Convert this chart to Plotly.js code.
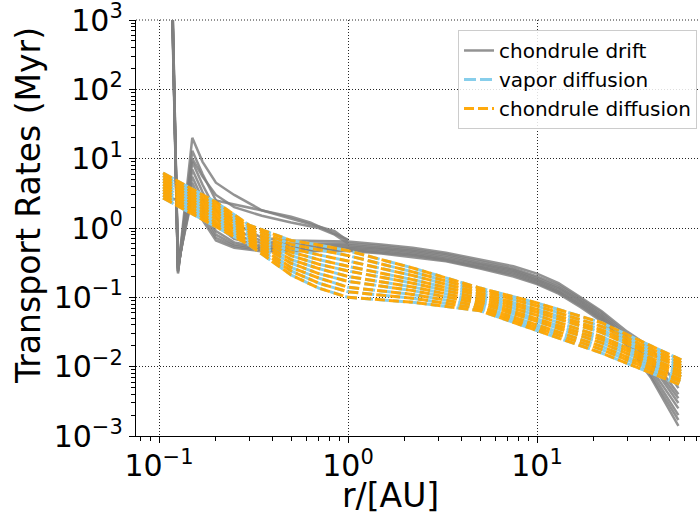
<!DOCTYPE html>
<html><head><meta charset="utf-8">
<script src="https://cdn.plot.ly/plotly-3.0.1.min.js"></script>
<style>html,body{margin:0;padding:0;background:#fff;}#chart{width:700px;height:516px;}</style>
</head><body><div id="chart"></div>
<script>
// ---- chondrule drift (short early snapshots, ending at 1 AU) ----
const rShort = [0.117, 0.126, 0.15, 0.17, 0.2, 0.25, 0.35, 0.5, 0.7, 0.85, 1.0];
const driftS1 = [3000, 0.24, 20, 9, 4.5, 3.0, 1.8, 1.35, 1.05, 0.9, 0.65];
const driftS2 = [3000, 0.26, 10, 5.5, 3.0, 2.0, 1.5, 1.2, 1.0, 0.8, 0.6];
const rShort3 = [0.114, 0.15, 0.2, 0.25, 0.35, 0.5, 0.63, 0.8, 1.0];
const driftS3 = [2.6, 2.6, 2.5, 2.2, 1.8, 1.45, 1.2, 0.9, 0.68];

// ---- chondrule drift (main bundle) ----
const rDrift = [0.117, 0.126, 0.15, 0.17, 0.2, 0.25, 0.35, 0.5, 0.7, 1.0, 1.5, 2.2, 3.3, 5, 7.5, 10, 13, 17, 22, 30, 40, 56];
const driftM1 = [2500, 0.22, 13, 6, 2.5, 1.2, 0.72, 0.66, 0.65, 0.64, 0.58, 0.52, 0.44, 0.35, 0.28, 0.22, 0.16, 0.1, 0.063, 0.032, 0.019, 0.0049];
const driftM2 = [3000, 0.23, 9, 4.2, 1.8, 0.95, 0.65, 0.6, 0.6, 0.6, 0.55, 0.49, 0.42, 0.33, 0.26, 0.2, 0.15, 0.095, 0.06, 0.029, 0.014, 0.004];
const driftM3 = [4000, 0.24, 7, 3.3, 1.4, 0.8, 0.6, 0.56, 0.57, 0.57, 0.52, 0.47, 0.4, 0.31, 0.25, 0.19, 0.14, 0.09, 0.056, 0.027, 0.012, 0.0035];
const driftM4 = [2000, 0.25, 5.5, 2.6, 1.1, 0.7, 0.55, 0.53, 0.54, 0.54, 0.5, 0.45, 0.38, 0.3, 0.24, 0.18, 0.135, 0.087, 0.054, 0.025, 0.011, 0.003];
const driftM5 = [5000, 0.26, 4.5, 2.1, 0.9, 0.62, 0.52, 0.51, 0.52, 0.52, 0.48, 0.43, 0.36, 0.29, 0.23, 0.175, 0.127, 0.083, 0.051, 0.023, 0.0095, 0.0025];
const driftM6 = [3500, 0.27, 3.8, 1.8, 0.8, 0.58, 0.5, 0.49, 0.5, 0.5, 0.46, 0.41, 0.35, 0.28, 0.22, 0.167, 0.122, 0.079, 0.049, 0.022, 0.0085, 0.002];
const driftM7 = [2800, 0.28, 3.2, 1.5, 0.72, 0.55, 0.48, 0.47, 0.48, 0.48, 0.44, 0.4, 0.34, 0.27, 0.21, 0.16, 0.118, 0.076, 0.047, 0.021, 0.0075, 0.0017];
const driftM8 = [4500, 0.3, 2.8, 1.3, 0.66, 0.52, 0.46, 0.46, 0.47, 0.47, 0.43, 0.38, 0.33, 0.26, 0.2, 0.155, 0.113, 0.072, 0.045, 0.02, 0.007, 0.0014];

// ---- diffusion (vapor and chondrule share the same values) ----
const rDiff = [0.105, 0.15, 0.2, 0.3, 0.5, 0.7, 1.0, 2.2, 5, 10, 22, 58];
const diff1  = [6.21, 3.65, 2.37, 1.10, 0.66, 0.57, 0.47, 0.265, 0.136, 0.083, 0.043, 0.0125];
const diff2  = [5.66, 3.33, 2.16, 1.03, 0.58, 0.485, 0.40, 0.233, 0.125, 0.075, 0.038, 0.0114];
const diff3  = [5.16, 3.03, 1.97, 0.95, 0.51, 0.41, 0.335, 0.206, 0.115, 0.067, 0.034, 0.0104];
const diff4  = [4.71, 2.77, 1.80, 0.885, 0.45, 0.35, 0.28, 0.18, 0.106, 0.061, 0.031, 0.0095];
const diff5  = [4.30, 2.52, 1.64, 0.82, 0.40, 0.30, 0.24, 0.16, 0.097, 0.055, 0.027, 0.0086];
const diff6  = [3.92, 2.30, 1.50, 0.76, 0.35, 0.26, 0.20, 0.141, 0.089, 0.049, 0.0245, 0.0079];
const diff7  = [3.57, 2.10, 1.36, 0.71, 0.31, 0.22, 0.17, 0.125, 0.082, 0.045, 0.022, 0.0072];
const diff8  = [3.26, 1.91, 1.24, 0.66, 0.27, 0.19, 0.14, 0.11, 0.075, 0.040, 0.0196, 0.0065];
const diff9  = [2.97, 1.75, 1.14, 0.61, 0.24, 0.16, 0.12, 0.097, 0.069, 0.036, 0.0176, 0.006];
const diff10 = [2.71, 1.59, 1.03, 0.57, 0.21, 0.136, 0.10, 0.085, 0.064, 0.033, 0.0157, 0.0054];

const yTickVals = [0.001, 0.01, 0.1, 1, 10, 100, 1000];
const yTickText = ['10<sup>−3</sup>','10<sup>−2</sup>','10<sup>−1</sup>','10<sup>0</sup>','10<sup>1</sup>','10<sup>2</sup>','10<sup>3</sup>'];
const xTickVals = [0.1, 1, 10];
const xTickText = ['10<sup>−1</sup>','10<sup>0</sup>','10<sup>1</sup>'];

const driftSeries = [
  [rShort, driftS1], [rShort, driftS2], [rShort3, driftS3],
  [rDrift, driftM1], [rDrift, driftM2], [rDrift, driftM3], [rDrift, driftM4],
  [rDrift, driftM5], [rDrift, driftM6], [rDrift, driftM7], [rDrift, driftM8]
];
const diffSeries = [diff1, diff2, diff3, diff4, diff5, diff6, diff7, diff8, diff9, diff10];

const traces = [];
driftSeries.forEach(([x, y], i) => traces.push({
  x: x, y: y, type: 'scatter', mode: 'lines',
  line: {color: 'rgba(128,128,128,0.85)', width: 2.5},
  name: 'chondrule drift', legendgroup: 'drift', showlegend: i === 0
}));
diffSeries.forEach((y, i) => traces.push({
  x: rDiff, y: y, type: 'scatter', mode: 'lines',
  line: {color: '#87CEEB', width: 3, dash: '12px,4px'},
  name: 'vapor diffusion', legendgroup: 'vap', showlegend: i === 0
}));
diffSeries.forEach((y, i) => traces.push({
  x: rDiff, y: y, type: 'scatter', mode: 'lines',
  line: {color: 'rgba(255,165,0,0.95)', width: 3, dash: '10px,4px'},
  name: 'chondrule diffusion', legendgroup: 'cd', showlegend: i === 0
}));

function minorVals(lo, hi) {
  const v = [];
  for (let e = lo; e <= hi; e++) for (let m = 2; m <= 9; m++) v.push(m * Math.pow(10, e));
  return v;
}

const font = 'DejaVu Sans, sans-serif';
const layout = {
  width: 700, height: 516,
  margin: {l: 136, r: 0, t: 20, b: 80},
  paper_bgcolor: '#fff', plot_bgcolor: '#fff',
  font: {family: font, color: '#000'},
  showlegend: true,
  xaxis: {
    type: 'log', range: [-1.1217, 1.8624],
    tickmode: 'array', tickvals: xTickVals, ticktext: xTickText,
    tickfont: {size: 30, family: font}, ticklabeloverflow: 'allow', ticklabelstandoff: -3,
    ticks: 'outside', ticklen: 6, tickwidth: 1, tickcolor: '#000',
    showline: true, linecolor: '#000', linewidth: 1.2,
    showgrid: true, gridcolor: 'rgba(0,0,0,0.85)', griddash: '1px,2px', gridwidth: 1,
    minor: {tickmode: 'array', tickvals: minorVals(-2, 1), ticks: 'outside', ticklen: 3.5, tickcolor: '#000', showgrid: false},
    zeroline: false
  },
  yaxis: {
    type: 'log', range: [-3, 3],
    tickmode: 'array', tickvals: yTickVals, ticktext: yTickText,
    tickfont: {size: 30, family: font}, ticklabeloverflow: 'allow',
    ticks: 'outside', ticklen: 6, tickwidth: 1, tickcolor: '#000',
    showline: true, linecolor: '#000', linewidth: 1.2,
    showgrid: true, gridcolor: 'rgba(0,0,0,0.85)', griddash: '1px,2px', gridwidth: 1,
    minor: {tickmode: 'array', tickvals: minorVals(-3, 2), ticks: 'outside', ticklen: 3.5, tickcolor: '#000', showgrid: false},
    zeroline: false
  },
  shapes: [
    {type: 'line', xref: 'paper', yref: 'paper', x0: 0, x1: 1, y0: 1, y1: 1,
     line: {color: 'rgba(0,0,0,0.85)', width: 1, dash: '1px,2px'}, layer: 'below'}
  ],
  legend: {
    x: 0.9947, xanchor: 'right', y: 0.976, yanchor: 'top',
    bgcolor: 'rgba(255,255,255,0.85)', bordercolor: '#cccccc', borderwidth: 1,
    tracegroupgap: 0,
    font: {size: 20, family: font, color: '#000'}
  },
  annotations: [
    {text: 'r/[AU]', xref: 'paper', yref: 'paper', x: (390 - 136) / 564, y: -(495 - 436) / 416,
     xanchor: 'center', yanchor: 'middle', showarrow: false, font: {size: 33, family: font, color: '#000'}},
    {text: 'Transport Rates (Myr)', xref: 'paper', yref: 'paper', x: (28 - 136) / 564, y: (436 - 206) / 416,
     xanchor: 'center', yanchor: 'middle', textangle: -90, showarrow: false, font: {size: 33, family: font, color: '#000'}}
  ]
};

Plotly.newPlot('chart', traces, layout, {displayModeBar: false, staticPlot: true});
</script>
</body></html>
